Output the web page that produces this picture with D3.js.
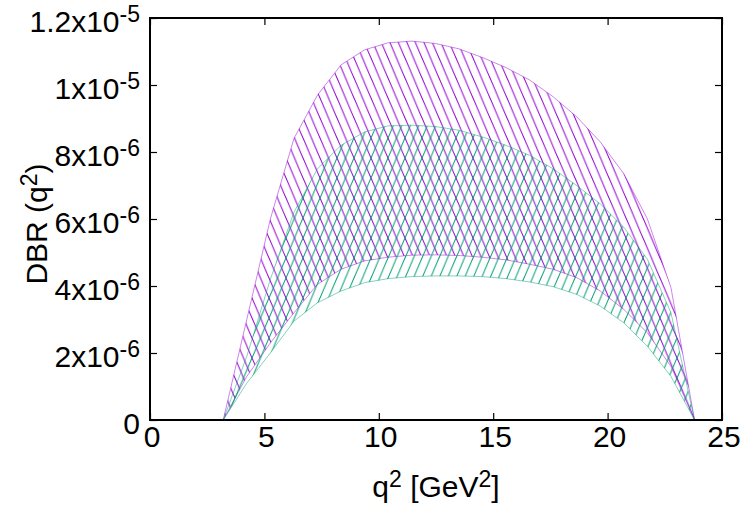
<!DOCTYPE html>
<html>
<head>
<meta charset="utf-8">
<script src="https://cdn.jsdelivr.net/npm/d3@7"></script>
<style>
  body { margin: 0; background: #fff; }
  text { font-family: "Liberation Sans", Arial, sans-serif; fill: #000; }
</style>
</head>
<body>
<div class="chart"></div>
<script>
// q^2 grid the curves were sampled on
const q2 = [3.20, 4.23, 5.26, 6.29, 7.32, 8.35, 9.38, 10.41, 11.44, 12.47, 13.50,
            14.53, 15.56, 16.59, 17.62, 18.65, 19.68, 20.71, 21.74, 22.77, 23.80];

// purple band
const purpleUpper = [0, 3.0e-6, 6.0e-6, 8.4e-6, 9.7e-6, 1.06e-5, 1.105e-5, 1.126e-5, 1.131e-5, 1.124e-5, 1.108e-5,
                     1.082e-5, 1.052e-5, 1.015e-5, 9.65e-6, 9.05e-6, 8.3e-6, 7.35e-6, 6.0e-6, 3.95e-6, 0];
const purpleLower = [0, 1.3e-6, 2.3e-6, 3.2e-6, 4.05e-6, 4.5e-6, 4.75e-6, 4.86e-6, 4.92e-6, 4.93e-6, 4.91e-6,
                     4.86e-6, 4.78e-6, 4.65e-6, 4.5e-6, 4.25e-6, 3.85e-6, 3.3e-6, 2.6e-6, 1.6e-6, 0];

// green band
const greenUpper = [0, 1.9e-6, 4.2e-6, 6.2e-6, 7.5e-6, 8.2e-6, 8.6e-6, 8.78e-6, 8.8e-6, 8.76e-6, 8.65e-6,
                    8.45e-6, 8.2e-6, 7.9e-6, 7.5e-6, 7.0e-6, 6.45e-6, 5.75e-6, 4.8e-6, 3.2e-6, 0];
const greenLower = [0, 1.1e-6, 2.0e-6, 2.95e-6, 3.5e-6, 3.85e-6, 4.1e-6, 4.22e-6, 4.28e-6, 4.3e-6, 4.3e-6,
                    4.28e-6, 4.22e-6, 4.12e-6, 3.98e-6, 3.75e-6, 3.4e-6, 2.9e-6, 2.2e-6, 1.3e-6, 0];

const xTicks = [0, 5, 10, 15, 20, 25];
const yTicks = [0, 2e-6, 4e-6, 6e-6, 8e-6, 1e-5, 1.2e-5];
const yMant = ['0', '2', '4', '6', '8', '1', '1.2'];
const yExp  = ['', '-6', '-6', '-6', '-6', '-5', '-5'];

const margin = ({top: 18, right: 28, bottom: 105, left: 150});
const width = 750 - margin.left - margin.right;
const height = 525 - margin.top - margin.bottom;

const svg = d3.select('.chart')
    .append('svg')
    .attr('width', 750)
    .attr('height', 525);

// hatch patterns
const defs = svg.append('defs');
function hatch(id, color, dir) {
    const w = 8.5, h = 20;
    let d = '';
    [-1, 0, 1].forEach(k => {
        if (dir === 'back') d += `M${k*w - w},${-h}L${k*w + 2*w},${2*h}`;
        else d += `M${k*w - w},${2*h}L${k*w + 2*w},${-h}`;
    });
    defs.append('pattern')
        .attr('id', id)
        .attr('patternUnits', 'userSpaceOnUse')
        .attr('width', w)
        .attr('height', h)
        .append('path')
        .attr('d', d)
        .attr('stroke', color)
        .attr('stroke-width', 1)
        .attr('fill', 'none');
}
hatch('hatchPurple', '#9400d3', 'back');
hatch('hatchGreen', '#009e73', 'fwd');

const g = svg.append('g')
    .attr('transform', 'translate(' + margin.left + ',' + margin.top + ')');

const xScale = d3.scaleLinear()
    .domain([0, 25])
    .range([0, width]);

const yScale = d3.scaleLinear()
    .domain([0, 1.2e-5])
    .range([height, 0]);

const bands = [
    {lo: purpleLower, hi: purpleUpper, color: '#9400d3', fill: 'url(#hatchPurple)'},
    {lo: greenLower, hi: greenUpper, color: '#009e73', fill: 'url(#hatchGreen)'}
];

const area = d3.area()
    .x(d => xScale(d.x))
    .y0(d => yScale(d.lo))
    .y1(d => yScale(d.hi));

bands.forEach(b => {
    const rows = q2.map((x, i) => ({x: x, lo: b.lo[i], hi: b.hi[i]}));
    g.append('path')
        .datum(rows)
        .attr('d', area)
        .attr('fill', b.fill)
        .attr('stroke', b.color)
        .attr('stroke-opacity', 0.6)
        .attr('stroke-width', 0.8);
});

// axes, ticks pointing inward on all four sides
const tick = 7;
g.append('g')
    .attr('transform', `translate(0, ${height})`)
    .call(d3.axisBottom(xScale).tickValues(xTicks).tickSizeInner(-tick).tickSizeOuter(0).tickFormat(''));
g.append('g')
    .call(d3.axisTop(xScale).tickValues(xTicks).tickSizeInner(-tick).tickSizeOuter(0).tickFormat(''));
g.append('g')
    .call(d3.axisLeft(yScale).tickValues(yTicks).tickSizeInner(-tick).tickSizeOuter(0).tickFormat(''));
g.append('g')
    .attr('transform', `translate(${width}, 0)`)
    .call(d3.axisRight(yScale).tickValues(yTicks).tickSizeInner(-tick).tickSizeOuter(0).tickFormat(''));
g.selectAll('.domain').remove();
g.selectAll('.tick line').attr('stroke', '#000').attr('stroke-width', 1.2);

g.append('rect')
    .attr('width', width)
    .attr('height', height)
    .attr('fill', 'none')
    .attr('stroke', '#000')
    .attr('stroke-width', 2);

// tick labels
g.selectAll('.xlab')
    .data(xTicks)
    .enter()
    .append('text')
    .attr('x', d => xScale(d) + 2)
    .attr('y', height + 27)
    .attr('text-anchor', 'middle')
    .attr('font-size', 30)
    .text(d => d);

const ylab = g.selectAll('.ylab')
    .data(yTicks)
    .enter()
    .append('text')
    .attr('x', -10)
    .attr('y', d => yScale(d) + 13.5)
    .attr('text-anchor', 'end')
    .attr('font-size', 30);
ylab.append('tspan').text((d, i) => yMant[i] + (yExp[i] ? 'x10' : ''));
ylab.append('tspan')
    .attr('font-size', 23)
    .attr('dy', -10)
    .text((d, i) => yExp[i]);

// axis titles
const xt = svg.append('text')
    .attr('x', margin.left + xScale(12.5))
    .attr('y', 497)
    .attr('text-anchor', 'middle')
    .attr('font-size', 30);
xt.append('tspan').text('q');
xt.append('tspan').attr('font-size', 23).attr('dy', -10).text('2');
xt.append('tspan').attr('dy', 10).text(' [GeV');
xt.append('tspan').attr('font-size', 23).attr('dy', -10).text('2');
xt.append('tspan').attr('dy', 10).text(']');

const yt = svg.append('text')
    .attr('transform', 'translate(47, 224) rotate(-90)')
    .attr('text-anchor', 'middle')
    .attr('font-size', 30);
yt.append('tspan').text('DBR (q');
yt.append('tspan').attr('font-size', 23).attr('dy', -10).text('2');
yt.append('tspan').attr('dy', 10).text(')');
</script>
</body>
</html>
